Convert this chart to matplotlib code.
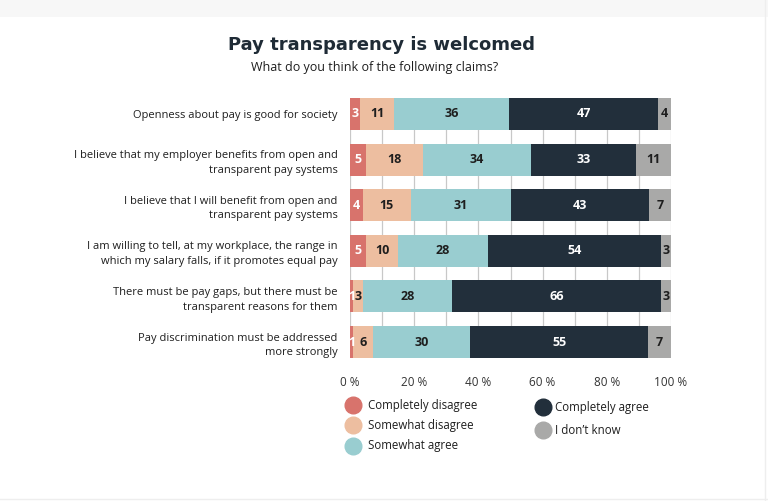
import matplotlib
matplotlib.use("Agg")
import matplotlib.pyplot as plt
from matplotlib.lines import Line2D
from matplotlib.patches import Rectangle
import numpy as np

plt.rcParams['font.family'] = ['Open Sans', 'DejaVu Sans']

categories = [
    "Openness about pay is good for society",
    "I believe that my employer benefits from open and\ntransparent pay systems",
    "I believe that I will benefit from open and\ntransparent pay systems",
    "I am willing to tell, at my workplace, the range in\nwhich my salary falls, if it promotes equal pay",
    "There must be pay gaps, but there must be\ntransparent reasons for them",
    "Pay discrimination must be addressed\nmore strongly",
]
series_names = ["Completely disagree", "Somewhat disagree", "Somewhat agree",
                "Completely agree", "I don\u2019t know"]
completely_disagree = [3, 5, 4, 5, 1, 1]
somewhat_disagree = [11, 18, 15, 10, 3, 6]
somewhat_agree = [36, 34, 31, 28, 28, 30]
completely_agree = [47, 33, 43, 54, 66, 55]
dont_know = [4, 11, 7, 3, 3, 7]
tick_values = [0, 20, 40, 60, 80, 100]
tick_labels = ["0 %", "20 %", "40 %", "60 %", "80 %", "100 %"]

colors = ["#d8736c", "#edbea0", "#99cdd0", "#222f3b", "#a9a9a8"]
text_colors = ["white", "#1e1e1e", "#1e1e1e", "white", "#1e1e1e"]

data = np.array([completely_disagree, somewhat_disagree, somewhat_agree,
                 completely_agree, dont_know], dtype=float)
totals = data.sum(axis=0)
shares = data / totals * 100

fig = plt.figure(figsize=(7.68, 5.01), dpi=100)
fig.patch.set_facecolor("white")

# faint page frame
fig.add_artist(Rectangle((0, 1 - 17 / 501), 1, 17 / 501, transform=fig.transFigure,
                         facecolor="#f7f7f7", edgecolor="none", zorder=0))
fig.add_artist(Line2D([765 / 768, 765 / 768], [0, 1], transform=fig.transFigure,
                      color="#eeeeee", lw=1))
fig.add_artist(Line2D([0, 1], [2 / 501, 2 / 501], transform=fig.transFigure,
                      color="#eeeeee", lw=1))

ax = fig.add_axes([350 / 768, 1 - 358 / 501, 321 / 768, 260 / 501])
y = np.arange(len(categories))
left = np.zeros(len(categories))
for i in range(len(series_names)):
    ax.barh(y, shares[i], left=left, height=0.7, color=colors[i], zorder=2,
            edgecolor="none")
    for j in range(len(categories)):
        v = data[i, j]
        cx = left[j] + shares[i, j] / 2
        ax.text(cx, y[j], f"{int(v)}", ha="center", va="center",
                fontsize=9, fontweight="bold", color=text_colors[i], zorder=3)
    left += shares[i]

ax.set_xlim(0, 100)
ax.set_ylim(len(categories) - 1 + 0.35, -0.35)
ax.set_axisbelow(True)
ax.set_xticks(tick_values)
ax.set_xticks(np.arange(10, 100, 20), minor=True)
ax.xaxis.grid(True, which="both", color="#c8c8c8", lw=0.9, zorder=0)
ax.set_xticklabels(tick_labels, fontsize=8.5, color="#333333")
ax.tick_params(axis="x", which="both", length=0, pad=13)
ax.set_yticks(y)
ax.set_yticklabels(categories, fontsize=8, color="#1e1e1e", linespacing=1.45)
ax.tick_params(axis="y", length=0, pad=9)
for s in ax.spines.values():
    s.set_visible(False)

fig.text(381 / 768, 1 - 45 / 501, "Pay transparency is welcomed", ha="center",
         va="center", fontsize=13, fontweight="bold", color="#1f2b36",
         family=["DejaVu Sans"])
fig.text(375 / 768, 1 - 68 / 501, "What do you think of the following claims?",
         ha="center", va="center", fontsize=9, color="#1e1e1e")

# legend
positions = [(353, 405, 368), (353, 425, 368), (353, 446, 368),
             (543, 407, 555), (543, 430, 555)]
for (mx, my, tx), name, c in zip(positions, series_names, colors):
    fig.add_artist(Line2D([mx / 768], [1 - my / 501], transform=fig.transFigure,
                          marker="o", markersize=12, color=c, lw=0))
    fig.text(tx / 768, 1 - my / 501, name, ha="left", va="center",
             fontsize=8.3, color="#1e1e1e")

fig.savefig("out.png", dpi=100, facecolor="white")
